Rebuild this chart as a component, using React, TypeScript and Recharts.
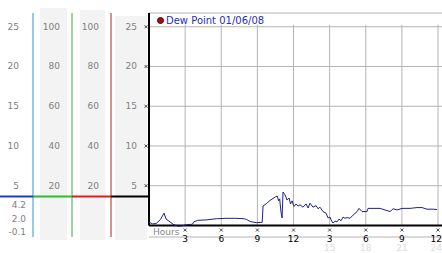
import { LineChart, Line, XAxis, YAxis, CartesianGrid, ReferenceLine, Legend } from 'recharts';

// Dew point readings, one day, hours since midnight
const HOURS = [
  0, 0.3, 0.6, 0.95, 1.25, 1.42, 1.75, 2.0, 2.4, 2.75, 3.1, 3.6, 3.72, 4.05, 4.75, 5.6, 6.4, 7.2,
  7.9, 8.1, 8.4, 8.9, 9.4, 9.47, 9.75, 10.05, 10.3, 10.5, 10.65, 10.76, 10.85, 10.96, 11.05, 11.13,
  11.3, 11.46, 11.63, 11.75, 11.88, 12.04, 12.21, 12.38, 12.54, 12.79, 13.04, 13.21, 13.37, 13.62,
  13.87, 14.04, 14.2, 14.45, 14.7, 14.87, 15.03, 15.12, 15.28, 15.45, 15.61, 15.78, 15.95, 16.11,
  16.28, 16.45, 16.69, 16.94, 17.28, 17.44, 17.69, 18.1, 18.19, 19.19, 19.6, 20.02, 20.27, 20.6,
  21.01, 21.68, 22.26, 22.67, 23.09, 23.59, 23.92,
];
const DEW_POINT = [
  0.4, 0.2, 0.25, 0.75, 1.55, 0.8, 0.45, 0.15, -0.1, -0.05, 0.1, 0.15, 0.45, 0.65, 0.7, 0.85, 0.9, 0.9,
  0.85, 0.75, 0.5, 0.35, 0.4, 2.45, 2.75, 3.15, 3.4, 3.6, 3.7, 3.1, 3.35, 1.7, 0.95, 4.2,
  3.85, 3.2, 3.45, 2.7, 3.1, 2.4, 2.7, 2.45, 2.6, 2.3, 2.7, 2.2, 2.8, 2.3,
  2.5, 2.1, 2.3, 1.75, 1.55, 0.95, 1.05, 0.7, 0.3, 0.55, 0.45, 0.8, 0.6, 1.05,
  0.9, 1.0, 0.9, 1.3, 1.75, 2.15, 1.75, 1.75, 2.15, 2.15, 1.95, 1.75, 2.1, 1.95,
  2.15, 2.15, 2.25, 2.25, 2.05, 2.05, 2.0,
];
const X_TICKS = [0, 3, 6, 9, 12, 15, 18, 21, 24];
const DEW_TICKS = [5, 10, 15, 20, 25];
const PCT_TICKS = [20, 40, 60, 80, 100];
const SERIES_NAME = 'Dew Point 01/06/08';

const data = HOURS.map((h, i) => ({ h, dew: DEW_POINT[i] }));

const DEW_DOMAIN = [-1.45, 26.73];
const PCT_DOMAIN = [DEW_DOMAIN[0] * 4, DEW_DOMAIN[1] * 4];
const X_DOMAIN = [0, 24.33];
const SEPARATOR = 3.65;

// max / current / min shown under the left scale
const stats = [
  Math.max(...DEW_POINT),
  DEW_POINT[DEW_POINT.length - 1],
  Math.min(...DEW_POINT),
].map((v) => v.toFixed(1));

const FONT = '"DejaVu Sans", Verdana, sans-serif';

const cross = (x: number, y: number) =>
  `M${x - 1.5},${y - 1.5}L${x + 1.5},${y + 1.5}M${x + 1.5},${y - 1.5}L${x - 1.5},${y + 1.5}`;

const scaleTick = (dx: number, mark = false) => (props: any) => {
  const { x, y, payload } = props;
  return (
    <g>
      <text x={x - dx} y={y} dy={3} textAnchor="end" fontSize={9} fontFamily={FONT} fill="#808080">
        {payload.value}
      </text>
      {mark && <path d={cross(x - 3, y)} stroke="#222" strokeWidth={0.8} />}
    </g>
  );
};

// leftmost scale also carries the coloured divider and the stats
const firstScaleTick = (props: any) => {
  const { x, y, payload } = props;
  if (payload.value === SEPARATOR) {
    return (
      <g>
        <line x1={x - 33} x2={x} y1={y} y2={y} stroke="#1a3ad6" strokeWidth={2} />
        <line x1={x} x2={x + 39} y1={y} y2={y} stroke="#2dbb2d" strokeWidth={2} />
        <line x1={x + 39} x2={x + 78} y1={y} y2={y} stroke="#dd1c1c" strokeWidth={2} />
        <line x1={x + 78} x2={x + 116} y1={y} y2={y} stroke="#000" strokeWidth={2} />
        {stats.map((s, i) => (
          <text key={i} x={x - 7} y={y + 12 + i * 13.3} textAnchor="end" fontSize={9} fontFamily={FONT} fill="#808080">
            {s}
          </text>
        ))}
      </g>
    );
  }
  return scaleTick(14)(props);
};

const hourTick = (props: any) => {
  const { x, y, payload } = props;
  const h = payload.value;
  if (h === 0) {
    return (
      <text x={x + 4} y={y - 2} fontSize={9} fontFamily={FONT} fill="#888">
        Hours
      </text>
    );
  }
  const last = h === X_TICKS[X_TICKS.length - 1];
  const tx = last ? x + 4 : x;
  const anchor = last ? 'end' : 'middle';
  return (
    <g>
      <path d={cross(x, y - 7)} stroke="#222" strokeWidth={0.8} />
      <text x={tx} y={y + 5} textAnchor={anchor} fontSize={9} fontFamily={FONT} fill="#000">
        {h > 12 ? h - 12 : h}
      </text>
      {h > 12 && (
        <text x={tx} y={y + 14} textAnchor={anchor} fontSize={9} fontFamily={FONT} fill="#dcdcdc">
          {h}
        </text>
      )}
    </g>
  );
};

const LegendBox = () => (
  <div style={{ display: 'flex', alignItems: 'center', height: 13, font: `10px ${FONT}`, color: '#1f2fbf', whiteSpace: 'nowrap' }}>
    <span style={{ width: 5, height: 5, borderRadius: '50%', background: '#a01010', border: '1px solid #500', marginRight: 2 }} />
    {SERIES_NAME}
  </div>
);

const columnBg = (left: number, top: number, width: number) => (
  <div style={{ position: 'absolute', left, top, width, height: 240 - top, background: '#f3f3f3' }} />
);

export default function App() {
  return (
    <div style={{ position: 'absolute', left: 0, top: 0, width: 442, height: 253, background: '#fff' }}>
      {columnBg(40, 8, 27)}
      {columnBg(80, 10, 25)}
      {columnBg(115, 16, 32)}
      <LineChart width={442} height={253} data={data} margin={{ top: 13, right: 0, bottom: 0, left: 0 }}>
        <CartesianGrid yAxisId="a_dew" vertical={false} stroke="#b4b4b4" />
        <XAxis
          dataKey="h"
          type="number"
          domain={X_DOMAIN}
          ticks={X_TICKS}
          interval={0}
          allowDataOverflow
          axisLine={false}
          tickLine={false}
          tickSize={0}
          tickMargin={0}
          height={16}
          tick={hourTick}
        />
        <YAxis
          yAxisId="a_dew"
          domain={DEW_DOMAIN}
          ticks={DEW_TICKS}
          interval={0}
          allowDataOverflow
          width={38}
          axisLine={false}
          tickLine={false}
          tickSize={0}
          tickMargin={0}
          tick={scaleTick(12, true)}
        />
        <YAxis
          yAxisId="b_red"
          domain={PCT_DOMAIN}
          ticks={PCT_TICKS}
          interval={0}
          allowDataOverflow
          width={39}
          axisLine={{ stroke: '#b02525' }}
          tickLine={false}
          tickSize={0}
          tickMargin={0}
          tick={scaleTick(12)}
        />
        <YAxis
          yAxisId="c_green"
          domain={PCT_DOMAIN}
          ticks={PCT_TICKS}
          interval={0}
          allowDataOverflow
          width={39}
          axisLine={{ stroke: '#3aaa3a' }}
          tickLine={false}
          tickSize={0}
          tickMargin={0}
          tick={scaleTick(12)}
        />
        <YAxis
          yAxisId="d_blue"
          domain={DEW_DOMAIN}
          ticks={[SEPARATOR, ...DEW_TICKS]}
          interval={0}
          allowDataOverflow
          width={33}
          axisLine={{ stroke: '#2e95c8' }}
          tickLine={false}
          tickSize={0}
          tickMargin={0}
          tick={firstScaleTick}
        />
        {X_TICKS.filter((t) => t > 0).map((t) => (
          <ReferenceLine
            key={t}
            yAxisId="a_dew"
            ifOverflow="visible"
            segment={[{ x: t, y: 0 }, { x: t, y: 25.25 }]}
            stroke="#b4b4b4"
          />
        ))}
        <ReferenceLine yAxisId="a_dew" y={0} ifOverflow="visible" stroke="#000" strokeWidth={2} />
        <ReferenceLine
          yAxisId="a_dew"
          ifOverflow="visible"
          segment={[{ x: 0, y: 0 }, { x: 0, y: DEW_DOMAIN[1] }]}
          stroke="#000"
          strokeWidth={2}
        />
        <Legend
          layout="horizontal"
          verticalAlign="middle"
          align="center"
          wrapperStyle={{ top: 14, left: 157, width: 'auto' }}
          content={() => <LegendBox />}
        />
        <Line
          yAxisId="a_dew"
          type="linear"
          dataKey="dew"
          name={SERIES_NAME}
          stroke="#1e1e96"
          strokeWidth={1}
          dot={false}
          activeDot={false}
          isAnimationActive={false}
        />
      </LineChart>
    </div>
  );
}
